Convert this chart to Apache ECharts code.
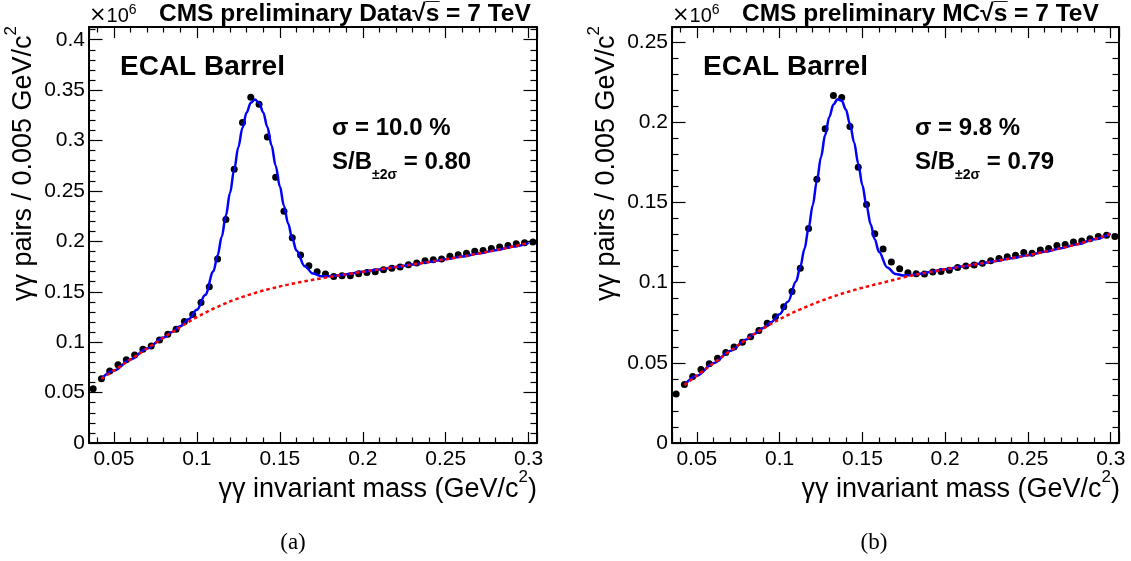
<!DOCTYPE html>
<html><head><meta charset="utf-8">
<script src="https://cdn.jsdelivr.net/npm/echarts@6/dist/echarts.min.js"></script>
<style>html,body{margin:0;padding:0;background:#fff}#c{width:1131px;height:561px}</style>
</head><body><div id="c"></div>
<script>
// bin centres (GeV/c^2), bin width 0.005
const massBins = [0.0375,0.0425,0.0475,0.0525,0.0575,0.0625,0.0675,0.0725,0.0775,0.0825,0.0875,0.0925,0.0975,
0.1025,0.1075,0.1125,0.1175,0.1225,0.1275,0.1325,0.1375,0.1425,0.1475,0.1525,0.1575,0.1625,0.1675,0.1725,0.1775,0.1825,0.1875,0.1925,0.1975,
0.2025,0.2075,0.2125,0.2175,0.2225,0.2275,0.2325,0.2375,0.2425,0.2475,0.2525,0.2575,0.2625,0.2675,0.2725,0.2775,0.2825,0.2875,0.2925,0.2975,
0.3025];
// gamma-gamma pairs per bin, units of 10^6
const dataCounts = [0.0538,0.0637,0.0713,0.0776,0.0826,0.0873,0.0929,0.0962,0.1022,0.1078,0.1128,0.1204,0.1274,
0.1394,0.1549,0.1825,0.2216,0.2715,0.3180,0.3430,0.3360,0.3036,0.2636,0.2298,0.2036,0.1865,0.1759,0.1699,0.1676,0.1652,0.1659,0.1659,0.1679,
0.1692,0.1699,0.1719,0.1732,0.1745,0.1769,0.1785,0.1808,0.1818,0.1825,0.1851,0.1868,0.1881,0.1901,0.1910,0.1930,0.1945,0.1960,0.1975,0.1985,
0.1993];
const mcCounts = [0.0306,0.0365,0.0415,0.0458,0.0494,0.0529,0.0565,0.0598,0.0629,0.0662,0.0702,0.0746,0.0787,
0.0850,0.0944,0.1089,0.1337,0.1644,0.1960,0.2167,0.2155,0.1973,0.1720,0.1487,0.1305,0.1210,0.1129,0.1087,0.1062,0.1056,0.1054,0.1066,0.1069,
0.1077,0.1094,0.1104,0.1110,0.1121,0.1137,0.1150,0.1162,0.1171,0.1188,0.1183,0.1203,0.1213,0.1232,0.1238,0.1253,0.1259,0.1274,0.1287,0.1295,
0.1287];
// fit curves
const fitMass = [0.0425,0.05,0.06,0.07,0.08,0.085,0.09,0.095,0.10,0.105,0.11,
0.1125,0.115,0.1175,0.12,0.1225,0.125,0.1275,0.13,0.1325,0.135,0.1375,0.14,0.1425,0.145,0.1475,0.15,0.1525,0.155,0.1575,0.16,
0.165,0.17,0.175,0.18,0.185,0.19,
0.20,0.21,0.22,0.23,0.24,0.25,0.26,0.27,0.28,0.29,0.30];
const dataTotalFit = [0.0637,0.0718,0.0828,0.0938,0.1046,0.1100,0.1158,0.1227,0.1321,0.1467,0.1703,
0.1860,0.2046,0.2256,0.2482,0.2713,0.2934,0.3127,0.3279,0.3375,0.3407,0.3373,0.3279,0.3134,0.2952,0.2751,0.2546,0.2351,0.2177,0.2030,0.1910,
0.1754,0.1680,0.1654,0.1654,0.1662,0.1673,
0.1698,0.1722,0.1746,0.1771,0.1796,0.1822,0.1850,0.1880,0.1912,0.1947,0.1985];
const dataBkgFit = [0.0637,0.0718,0.0828,0.0938,0.1045,0.1098,0.1150,0.1200,0.1248,0.1291,0.1333,
0.1351,0.1369,0.1387,0.1404,0.1420,0.1435,0.1449,0.1463,0.1476,0.1488,0.1500,0.1512,0.1523,0.1533,0.1543,0.1553,0.1562,0.1571,0.1580,0.1588,
0.1604,0.1619,0.1633,0.1647,0.1660,0.1673,
0.1698,0.1722,0.1746,0.1771,0.1796,0.1822,0.1850,0.1880,0.1912,0.1947,0.1985];
const mcTotalFit = [0.0362,0.0420,0.0497,0.0573,0.0646,0.0682,0.0717,0.0754,0.0803,0.0880,0.1009,
0.1099,0.1209,0.1339,0.1483,0.1634,0.1784,0.1920,0.2033,0.2110,0.2144,0.2134,0.2080,0.1990,0.1874,0.1742,0.1607,0.1479,0.1364,0.1269,0.1192,
0.1095,0.1054,0.1044,0.1048,0.1056,0.1065,
0.1083,0.1100,0.1117,0.1134,0.1152,0.1171,0.1192,0.1215,0.1240,0.1270,0.1305];
const mcBkgFit = [0.0362,0.0420,0.0497,0.0573,0.0646,0.0681,0.0714,0.0744,0.0772,0.0798,0.0822,
0.0833,0.0844,0.0855,0.0866,0.0876,0.0886,0.0895,0.0905,0.0914,0.0922,0.0931,0.0939,0.0946,0.0954,0.0961,0.0968,0.0975,0.0981,0.0988,0.0994,
0.1007,0.1020,0.1033,0.1045,0.1055,0.1065,
0.1083,0.1100,0.1117,0.1134,0.1152,0.1171,0.1192,0.1215,0.1240,0.1270,0.1305];
// tick labels
const xTickLabels = [0.05,0.1,0.15,0.2,0.25,0.3];
const yTickLabelsData = [0,0.05,0.1,0.15,0.2,0.25,0.3,0.35,0.4];
const yTickLabelsMC = [0,0.05,0.1,0.15,0.2,0.25];
const xRange = [0.035, 0.305];
const yMaxData = 0.4126, yMaxMC = 0.2594;

const FONT = 'Liberation Sans, Arial, Helvetica, sans-serif';
const chart = echarts.init(document.getElementById('c'), null, {renderer: 'canvas'});

function labelFmt(list) {
  return function (v) {
    for (const t of list) if (Math.abs(v - t) < 1e-7) return String(t);
    return '';
  };
}
function xAx(grid, pos) {
  return {
    type: 'value', gridIndex: grid, position: pos, min: xRange[0], max: xRange[1], splitNumber: 5,
    axisLine: {show: true, onZero: false, lineStyle: {color: '#000', width: 2}},
    axisTick: {show: true, inside: true, length: 11, lineStyle: {color: '#000', width: 1.2}},
    minorTick: {show: true, splitNumber: 5, length: 5.5, lineStyle: {color: '#000', width: 1.2}},
    splitLine: {show: false},
    axisLabel: {show: pos === 'bottom', margin: 6, color: '#000', fontFamily: FONT, fontSize: 21,
      formatter: labelFmt(xTickLabels)}
  };
}
function yAx(grid, pos, max, labels) {
  return {
    type: 'value', gridIndex: grid, position: pos, min: 0, max: max, interval: 0.05,
    axisLine: {show: true, onZero: false, lineStyle: {color: '#000', width: 2}},
    axisTick: {show: true, inside: true, length: 13.5, lineStyle: {color: '#000', width: 1.2}},
    minorTick: {show: true, splitNumber: 5, length: 6.5, lineStyle: {color: '#000', width: 1.2}},
    splitLine: {show: false},
    axisLabel: {show: pos === 'left', margin: 4, color: '#000', fontFamily: FONT, fontSize: 21,
      formatter: labelFmt(labels)}
  };
}
function pairs(xs, ys) { return xs.map((x, i) => [x, ys[i]]); }

function panelSeries(xi, yi, counts, total, bkg) {
  return [
    {type: 'scatter', xAxisIndex: xi, yAxisIndex: yi, data: pairs(massBins, counts),
     symbol: 'circle', symbolSize: 7, itemStyle: {color: '#000', opacity: 1}, z: 2, silent: true},
    {type: 'line', xAxisIndex: xi, yAxisIndex: yi, data: pairs(fitMass, total),
     smooth: 0.35, smoothMonotone: 'x', showSymbol: false, symbol: 'none',
     lineStyle: {color: '#0000ff', width: 2.5}, z: 3, silent: true},
    {type: 'line', xAxisIndex: xi, yAxisIndex: yi, data: pairs(fitMass, bkg),
     smooth: 0.35, showSymbol: false, symbol: 'none',
     lineStyle: {color: '#ff0000', width: 2.5, type: [3.5, 3]}, z: 4, silent: true}
  ];
}

const supRich = {
  m: {fontFamily: FONT, fontSize: 27, fill: '#000', lineHeight: 34, verticalAlign: 'bottom'},
  s: {fontFamily: FONT, fontSize: 17, fill: '#000', lineHeight: 34, verticalAlign: 'top'}
};
function panelTexts(x0, title, sigma, sb) {
  const R = x0 + 448;
  return [
    {type: 'text', x: x0, y: 3, style: {text: '{x|×}{m|10}{s|6}', verticalAlign: 'top',
      rich: {x: {fontFamily: 'DejaVu Sans, ' + FONT, fontSize: 21, fill: '#000', lineHeight: 23, verticalAlign: 'bottom'},
             m: {fontFamily: FONT, fontSize: 20, fill: '#000', lineHeight: 23, verticalAlign: 'bottom'},
             s: {fontFamily: FONT, fontSize: 14, fill: '#000', lineHeight: 23, verticalAlign: 'top'}}}},
    {type: 'text', x: x0 + 70, y: 14, style: {text: title, fontFamily: FONT, fontSize: 24.5, fontWeight: 'bold',
      fill: '#000', align: 'left', verticalAlign: 'middle'}},
    {type: 'text', x: x0 + 31, y: 67, style: {text: 'ECAL Barrel', fontFamily: FONT, fontSize: 28, fontWeight: 'bold',
      fill: '#000', align: 'left', verticalAlign: 'middle'}},
    {type: 'text', x: x0 + 243, y: 128, style: {text: sigma, fontFamily: FONT, fontSize: 24, fontWeight: 'bold',
      fill: '#000', align: 'left', verticalAlign: 'middle'}},
    {type: 'text', x: x0 + 243, y: 142, style: {text: '{m|S/B}{b|±2σ}{m| = ' + sb + '}', verticalAlign: 'top', align: 'left',
      rich: {m: {fontFamily: FONT, fontSize: 24, fontWeight: 'bold', fill: '#000', lineHeight: 40, verticalAlign: 'middle'},
             b: {fontFamily: FONT, fontSize: 14, fontWeight: 'bold', fill: '#000', lineHeight: 40, verticalAlign: 'bottom'}}}},
    {type: 'text', x: R, y: 469, style: {text: '{m|γγ invariant mass (GeV/c}{s|2}{m|)}', align: 'right', verticalAlign: 'top',
      rich: supRich}},
    {type: 'text', x: x0 - 86, y: 26, rotation: Math.PI / 2,
      style: {text: '{m|γγ pairs / 0.005 GeV/c}{s|2}', align: 'right', verticalAlign: 'top', rich: supRich}}
  ];
}

const option = {
  animation: false,
  backgroundColor: '#fff',
  grid: [
    {left: 89, top: 27, width: 448, height: 416, containLabel: false},
    {left: 672, top: 27, width: 447, height: 416, containLabel: false}
  ],
  xAxis: [xAx(0, 'bottom'), xAx(0, 'top'), xAx(1, 'bottom'), xAx(1, 'top')],
  yAxis: [yAx(0, 'left', yMaxData, yTickLabelsData), yAx(0, 'right', yMaxData, yTickLabelsData),
          yAx(1, 'left', yMaxMC, yTickLabelsMC), yAx(1, 'right', yMaxMC, yTickLabelsMC)],
  series: [].concat(
    panelSeries(0, 0, dataCounts, dataTotalFit, dataBkgFit),
    panelSeries(2, 2, mcCounts, mcTotalFit, mcBkgFit)
  ),
  graphic: [].concat(
    panelTexts(89, 'CMS preliminary Data\u221As\u0305 = 7 TeV', 'σ = 10.0 %', '0.80'),
    panelTexts(672, 'CMS preliminary MC\u221As\u0305 = 7 TeV', 'σ = 9.8 %', '0.79'),
    [
      {type: 'text', x: 293, y: 543, style: {text: '(a)', fontFamily: 'Liberation Serif, DejaVu Serif, serif', fontSize: 23,
        fill: '#000', align: 'center', verticalAlign: 'middle'}},
      {type: 'text', x: 874, y: 543, style: {text: '(b)', fontFamily: 'Liberation Serif, DejaVu Serif, serif', fontSize: 23,
        fill: '#000', align: 'center', verticalAlign: 'middle'}}
    ]
  )
};
chart.setOption(option);
</script>
</body></html>
